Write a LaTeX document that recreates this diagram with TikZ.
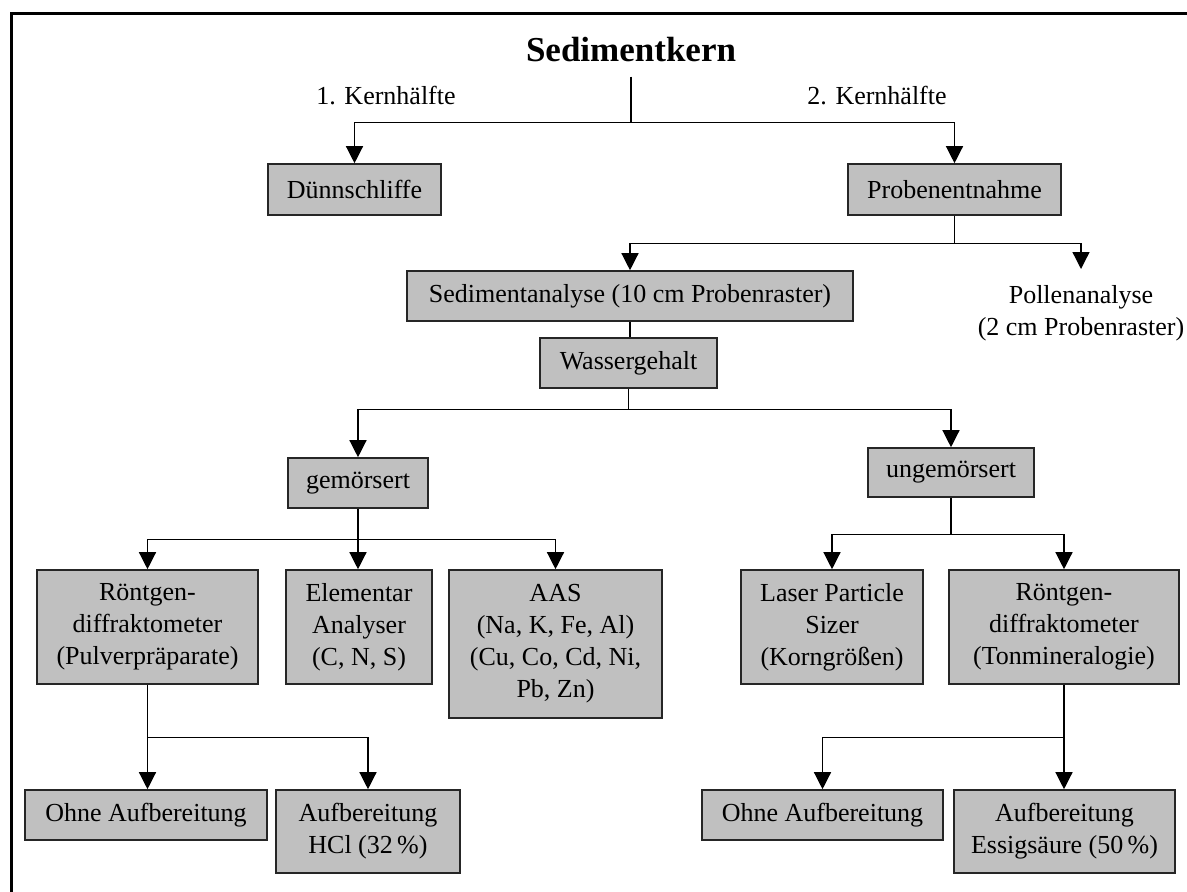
\documentclass[tikz,border=0pt]{standalone}
\usepackage{fontspec}
\setmainfont{Liberation Serif}
\usetikzlibrary{arrows.meta}
\definecolor{boxgray}{HTML}{C0C0C0}
\definecolor{edge}{HTML}{262626}
\begin{document}
\begin{tikzpicture}[x=1pt,y=-1pt,
  every node/.style={font=\fontsize{26}{32}\selectfont},
  box/.style={draw=edge, line width=1.6pt, fill=boxgray, inner sep=0pt, align=center},
  lbl/.style={inner sep=0pt, align=center},
  conn/.style={line width=1.3pt, draw=black},
  arr/.style={conn, -{Triangle[length=17pt,width=17pt]}}]
\useasboundingbox (0,0) rectangle (1187,892);
% frame
\draw[line width=3pt] (11.5,900) -- (11.5,13) -- (1200,13);
% title and labels
\node[anchor=base, inner xsep=0pt, inner ysep=15pt, font=\fontsize{35}{40}\selectfont\bfseries] (title) at (631,61) {Sedimentkern};
\node[lbl, anchor=base] (k1) at (386,104) {1. Kernh\"alfte};
\node[lbl, anchor=base] (k2) at (877,104) {2. Kernh\"alfte};
% boxes
\node[box, minimum width=173pt, minimum height=51pt] (duenn) at (354.5,189.5) {D\"unnschliffe};
\node[box, minimum width=213pt, minimum height=51pt] (proben) at (954.5,189.5) {Probenentnahme};
\node[box, minimum width=446pt, minimum height=50pt] (sedi) at (630,296) {Sedimentanalyse (10 cm Probenraster)};
\node[lbl, anchor=north, inner ysep=16pt] (pollen) at (1081,269) {Pollenanalyse\\(2 cm Probenraster)};
\node[box, minimum width=177pt, minimum height=50pt] (wasser) at (628.5,363) {Wassergehalt};
\node[box, minimum width=140pt, minimum height=50pt] (gem) at (358,483) {gem\"orsert};
\node[box, minimum width=166pt, minimum height=49pt] (ungem) at (951,472.5) {ungem\"orsert};
\node[box, minimum width=221pt, minimum height=114pt] (r1) at (147.5,627) {R\"ontgen-\\diffraktometer\\(Pulverpr\"aparate)};
\node[box, minimum width=146pt, minimum height=114pt] (elem) at (359,627) {Elementar\\Analyser\\(C, N, S)};
\node[box, minimum width=213pt, minimum height=148pt] (aas) at (555.5,644) {AAS\\(Na, K, Fe, Al)\\(Cu, Co, Cd, Ni,\\Pb, Zn)};
\node[box, minimum width=182pt, minimum height=114pt] (laser) at (832,627) {Laser Particle\\Sizer\\(Korngr\"o\ss en)};
\node[box, minimum width=230pt, minimum height=114pt] (r2) at (1064,627) {R\"ontgen-\\diffraktometer\\(Tonmineralogie)};
\node[box, minimum width=242pt, minimum height=50pt] (ohne1) at (146,815) {Ohne Aufbereitung};
\node[box, minimum width=184pt, minimum height=83pt] (hcl) at (368,831.5) {Aufbereitung\\HCl (32\,\%)};
\node[box, minimum width=241pt, minimum height=50pt] (ohne2) at (822.5,815) {Ohne Aufbereitung};
\node[box, minimum width=221pt, minimum height=83pt] (essig) at (1064.5,831.5) {Aufbereitung\\Essigs\"aure (50\,\%)};
% connectors
\draw[conn] (title.south) -- ++(0,46) coordinate (j1);
\draw[arr] (j1) -| (duenn.north);
\draw[arr] (j1) -| (proben.north);
\draw[conn] (proben.south) -- ++(0,28) coordinate (j2);
\draw[arr] (j2) -| (sedi.north);
\draw[arr] (j2) -| (pollen.north);
\draw[conn] (sedi.south) -- (sedi.south |- wasser.north);
\draw[conn] (wasser.south) -- ++(0,21) coordinate (j3);
\draw[arr] (j3) -| (gem.north);
\draw[arr] (j3) -| (ungem.north);
\draw[conn] (gem.south) -- ++(0,31) coordinate (j4);
\draw[arr] (j4) -| (r1.north);
\draw[arr] (j4) -- (j4 |- elem.north);
\draw[arr] (j4) -| (aas.north);
\draw[conn] (ungem.south) -- ++(0,37) coordinate (j5);
\draw[arr] (j5) -| (laser.north);
\draw[arr] (j5) -| (r2.north);
\draw[conn] (r1.south) -- ++(0,53) coordinate (j6);
\draw[arr] (j6) -- (j6 |- ohne1.north);
\draw[arr] (j6) -| (hcl.north);
\draw[conn] (r2.south) -- ++(0,53) coordinate (j7);
\draw[arr] (j7) -| (ohne2.north);
\draw[arr] (j7) -- (j7 |- essig.north);
\end{tikzpicture}
\end{document}
